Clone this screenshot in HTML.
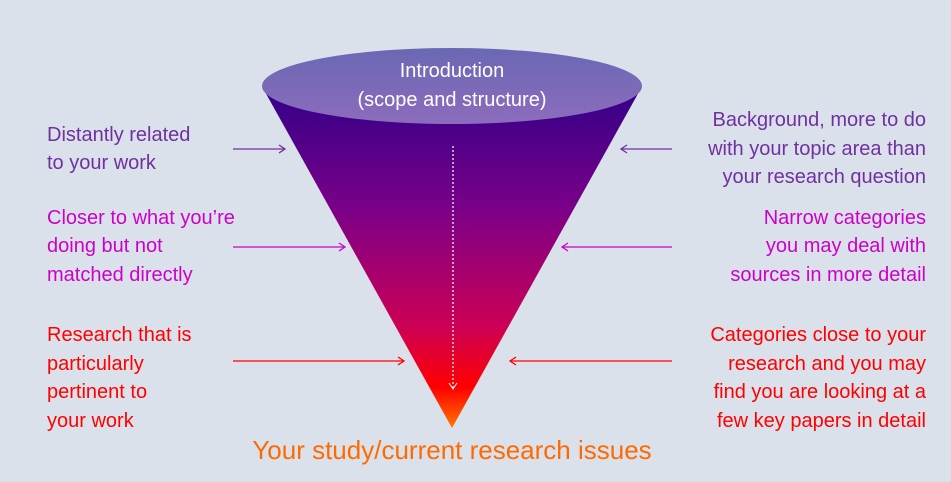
<!DOCTYPE html>
<html><head><meta charset="utf-8"><style>
html,body{margin:0;padding:0;background:#dbe1ea;}
svg{display:block}
text{font-family:"Liberation Sans",sans-serif;font-size:20px}
.p{fill:#7030a0}.m{fill:#cc00cc}.r{fill:#ff0000}
</style></head><body>
<svg width="951" height="482" viewBox="0 0 951 482" xmlns="http://www.w3.org/2000/svg">
<defs>
<linearGradient id="g" x1="0" y1="0" x2="0" y2="1">
<stop offset="0" stop-color="#330088"/>
<stop offset="0.35" stop-color="#7a0088"/>
<stop offset="0.7" stop-color="#cc0055"/>
<stop offset="0.88" stop-color="#ff0000"/>
<stop offset="1" stop-color="#ff7700"/>
</linearGradient>
<linearGradient id="e" x1="0" y1="0" x2="0" y2="1">
<stop offset="0" stop-color="#6a68b4"/>
<stop offset="1" stop-color="#8c6cbc"/>
</linearGradient>
</defs>
<rect width="951" height="482" fill="#dbe1ea"/>
<polygon points="264,90 640,90 452,428" fill="url(#g)"/>
<ellipse cx="452" cy="86" rx="190" ry="38" fill="url(#e)"/>
<text x="452" y="77" text-anchor="middle" fill="#fff">Introduction</text>
<text x="452" y="106" text-anchor="middle" fill="#fff">(scope and structure)</text>
<line x1="453" y1="146" x2="453" y2="388" stroke="#fff" stroke-width="1.2" stroke-dasharray="2,2"/>
<polyline points="449,383 453,389 457,383" fill="none" stroke="#fff" stroke-width="1"/>
<g fill="none" stroke-width="1.3">
<g stroke="#7030a0"><line x1="233" y1="149" x2="285" y2="149"/><polyline points="279,145 285,149 279,153"/>
<line x1="621" y1="149" x2="672" y2="149"/><polyline points="627,145 621,149 627,153"/></g>
<g stroke="#cc00cc"><line x1="233" y1="247" x2="345" y2="247"/><polyline points="339,243 345,247 339,251"/>
<line x1="562" y1="247" x2="672" y2="247"/><polyline points="568,243 562,247 568,251"/></g>
<g stroke="#ff0000"><line x1="233" y1="361" x2="404" y2="361"/><polyline points="398,357 404,361 398,365"/>
<line x1="510" y1="361" x2="672" y2="361"/><polyline points="516,357 510,361 516,365"/></g>
</g>
<text class="p" x="47" y="141">Distantly related</text>
<text class="p" x="47" y="169">to your work</text>
<text class="m" x="47" y="224">Closer to what you’re</text>
<text class="m" x="47" y="252">doing but not</text>
<text class="m" x="47" y="281">matched directly</text>
<text class="r" x="47" y="341">Research that is</text>
<text class="r" x="47" y="370">particularly</text>
<text class="r" x="47" y="398">pertinent to</text>
<text class="r" x="47" y="427">your work</text>
<g text-anchor="end">
<text class="p" x="926" y="126">Background, more to do</text>
<text class="p" x="926" y="155">with your topic area than</text>
<text class="p" x="926" y="183">your research question</text>
<text class="m" x="926" y="224">Narrow categories</text>
<text class="m" x="926" y="252">you may deal with</text>
<text class="m" x="926" y="281">sources in more detail</text>
<text class="r" x="926" y="341">Categories close to your</text>
<text class="r" x="926" y="370">research and you may</text>
<text class="r" x="926" y="398">find you are looking at a</text>
<text class="r" x="926" y="427">few key papers in detail</text>
</g>
<text x="452" y="459" text-anchor="middle" fill="#ff6a00" style="font-size:26px">Your study/current research issues</text>
</svg>
</body></html>
